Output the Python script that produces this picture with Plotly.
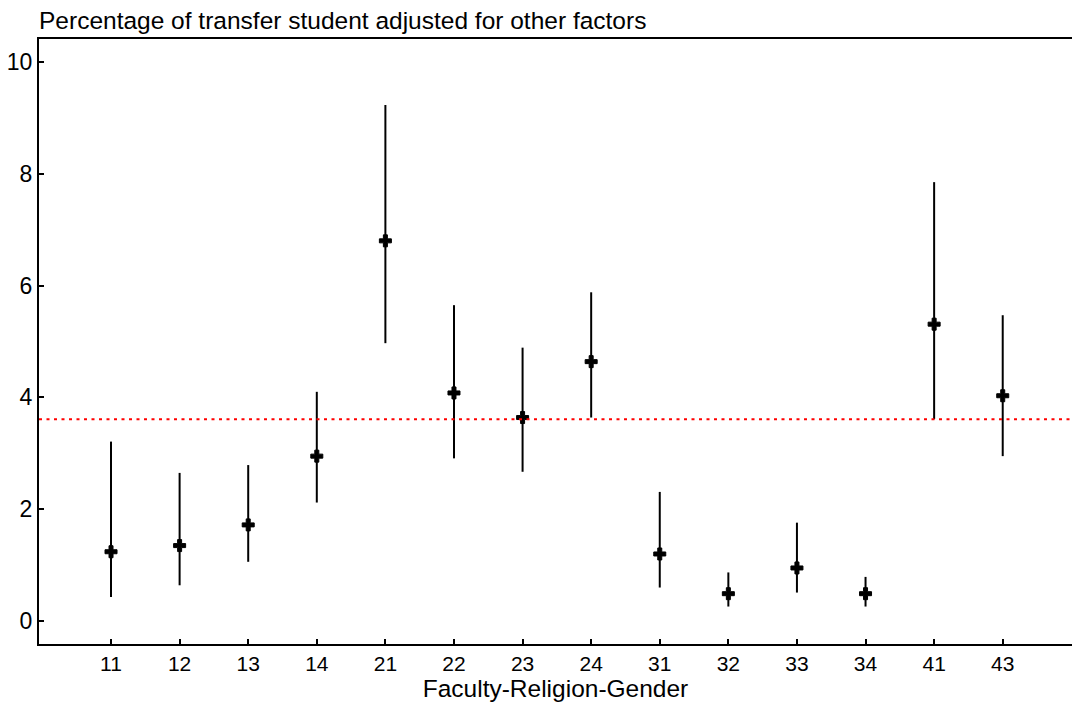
import plotly.graph_objects as go

categories = ["11", "12", "13", "14", "21", "22", "23", "24", "31", "32", "33", "34", "41", "43"]
estimate = [1.24, 1.35, 1.72, 2.95, 6.80, 4.08, 3.64, 4.64, 1.20, 0.49, 0.95, 0.49, 5.31, 4.03]
upper = [3.21, 2.65, 2.79, 4.10, 9.23, 5.65, 4.89, 5.88, 2.31, 0.87, 1.76, 0.79, 7.85, 5.47]
lower = [0.43, 0.64, 1.06, 2.12, 4.97, 2.91, 2.67, 3.64, 0.60, 0.26, 0.51, 0.26, 3.61, 2.95]
overall = 3.61
y_ticks = [0, 2, 4, 6, 8, 10]

xpos = list(range(len(categories)))
err_plus = [u - e for u, e in zip(upper, estimate)]
err_minus = [e - l for e, l in zip(estimate, lower)]

FONT = "Liberation Sans, Arial, Helvetica, sans-serif"

fig = go.Figure()
fig.add_trace(go.Scatter(
    x=xpos, y=estimate, mode="markers",
    marker=dict(symbol="cross", size=10, color="black", line=dict(color="black", width=1)),
    error_y=dict(type="data", symmetric=False, array=err_plus, arrayminus=err_minus,
                 width=0, thickness=2, color="black"),
    showlegend=False, hoverinfo="skip",
))

fig.add_shape(type="line", xref="paper", x0=0, x1=1, yref="y", y0=overall, y1=overall,
              line=dict(color="red", width=2, dash="3px,4.5px"))

fig.update_layout(
    width=1072, height=707,
    margin=dict(l=39, r=0, t=39, b=63),
    paper_bgcolor="white", plot_bgcolor="white",
    font=dict(family=FONT, color="black"),
    xaxis=dict(
        range=[-1.05, 14.01], tickmode="array", tickvals=xpos, ticktext=categories,
        automargin=False,
        showgrid=False, zeroline=False, showline=True, linecolor="black", linewidth=2,
        mirror=True, ticks="inside", ticklen=5, tickwidth=1.5, tickcolor="black",
        tickfont=dict(size=21, family=FONT, color="black"),
        title=dict(text="Faculty-Religion-Gender", font=dict(size=24.5, family=FONT, color="black"),
                   standoff=0),
    ),
    yaxis=dict(
        range=[-0.41, 10.41], tickmode="array", tickvals=y_ticks,
        automargin=False,
        showgrid=False, zeroline=False, showline=True, linecolor="black", linewidth=2,
        mirror=False, ticks="inside", ticklen=5, tickwidth=1.5, tickcolor="black",
        tickfont=dict(size=23, family=FONT, color="black"),
    ),
    annotations=[dict(
        text="Percentage of transfer student adjusted for other factors",
        xref="paper", yref="paper", x=0, y=1, xanchor="left", yanchor="bottom",
        xshift=-2, yshift=3, showarrow=False,
        font=dict(size=24.5, family=FONT, color="black"),
    )],
)

fig.write_html(
    "out.html",
    config={"displayModeBar": False},
    post_script="document.body.style.margin='0';document.body.style.overflow='hidden';",
)
